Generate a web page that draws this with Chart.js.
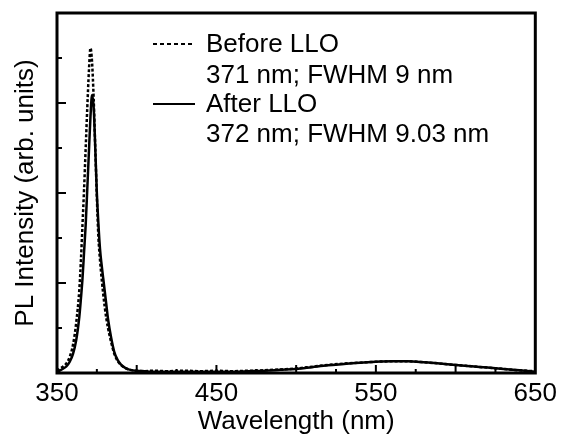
<!DOCTYPE html>
<html>
<head>
<meta charset="utf-8">
<script src="https://cdn.jsdelivr.net/npm/chart.js@4.4.1/dist/chart.umd.min.js"></script>
<style>
  html, body { margin: 0; padding: 0; background: #fff; }
  #wrap { width: 562px; height: 438px; position: relative; }
</style>
</head>
<body>
<div id="wrap"><canvas id="myChart"></canvas></div>
<script>
// wavelengths (nm), shared by both spectra
var wavelength = [350, 352, 354, 356, 358, 360, 362, 364, 365, 366, 367, 368, 369, 370, 371, 372, 373, 374, 375,
  376, 377, 378, 379, 380, 381, 382, 384, 386, 388, 390, 393, 396, 400, 405, 410, 420, 430, 440, 450, 460, 470,
  480, 490, 500, 510, 520, 530, 540, 550, 560, 570, 580, 590, 600, 610, 620, 630, 640, 650];
var beforeLLO = [0.05, 0.1, 0.15, 0.22, 0.36, 0.62, 1.1, 1.85, 2.5, 3.3, 4.1, 5.0, 5.9, 6.7, 7.22, 6.9, 6.1, 5.0, 3.9,
  3.0, 2.5, 2.1, 1.75, 1.45, 1.2, 1.0, 0.68, 0.42, 0.27, 0.18, 0.11, 0.07, 0.05, 0.04, 0.05, 0.04, 0.05, 0.04, 0.05, 0.04, 0.05,
  0.06, 0.08, 0.1, 0.14, 0.18, 0.21, 0.23, 0.25, 0.26, 0.26, 0.24, 0.21, 0.18, 0.15, 0.12, 0.09, 0.06, 0.04];
var afterLLO = [0.03, 0.06, 0.1, 0.15, 0.25, 0.42, 0.72, 1.25, 1.65, 2.1, 2.7, 3.3, 4.1, 4.9, 5.7, 6.18, 5.9, 5.0, 4.0,
  3.3, 2.75, 2.4, 2.1, 1.8, 1.5, 1.2, 0.78, 0.46, 0.29, 0.19, 0.11, 0.07, 0.05, 0.04, 0.03, 0.03, 0.03, 0.03, 0.03, 0.03, 0.04,
  0.05, 0.07, 0.09, 0.13, 0.17, 0.2, 0.23, 0.25, 0.26, 0.26, 0.24, 0.21, 0.18, 0.15, 0.12, 0.09, 0.06, 0.03];

var xLabelTicks = [350, 450, 550, 650];
var xMajorTicks = [400, 450, 500, 550, 600];
var xMinorTicks = [375, 425, 475, 525, 575, 625];
var yMajorTicks = [2, 4, 6];
var yMinorTicks = [1, 3, 5, 7];

var legendLines = [
  { dash: [4, 3], text: ['Before LLO', '371 nm; FWHM 9 nm'] },
  { dash: [], text: ['After LLO', '372 nm; FWHM 9.03 nm'] }
];

function toPoints(xs, ys) {
  return xs.map(function (x, i) { return { x: x, y: ys[i] }; });
}

var FONT = '"Liberation Sans", Arial, sans-serif';
var FSIZE = 26;

// frame, inward ticks and the text legend
var framePlugin = {
  id: 'frame',
  afterDraw: function (chart) {
    var ctx = chart.ctx, a = chart.chartArea;
    var xs = chart.scales.x, ys = chart.scales.y;
    ctx.save();
    ctx.strokeStyle = '#000';
    ctx.lineWidth = 2;
    ctx.beginPath();
    xMajorTicks.forEach(function (v) {
      var p = xs.getPixelForValue(v);
      ctx.moveTo(p, a.bottom); ctx.lineTo(p, a.bottom - 8);
    });
    xMinorTicks.forEach(function (v) {
      var p = xs.getPixelForValue(v);
      ctx.moveTo(p, a.bottom); ctx.lineTo(p, a.bottom - 4);
    });
    yMajorTicks.forEach(function (v) {
      var p = ys.getPixelForValue(v);
      ctx.moveTo(a.left, p); ctx.lineTo(a.left + 9, p);
    });
    yMinorTicks.forEach(function (v) {
      var p = ys.getPixelForValue(v);
      ctx.moveTo(a.left, p); ctx.lineTo(a.left + 5, p);
    });
    ctx.stroke();

    ctx.lineWidth = 3;
    ctx.strokeRect(a.left, a.top, a.right - a.left, a.bottom - a.top);

    // legend
    ctx.font = FSIZE + 'px ' + FONT;
    ctx.fillStyle = '#000';
    ctx.textBaseline = 'alphabetic';
    var sampleY = [44, 104];
    var textY = [[52, 83], [112, 142]];
    legendLines.forEach(function (item, i) {
      ctx.lineWidth = 2;
      ctx.setLineDash(item.dash);
      ctx.beginPath();
      ctx.moveTo(153, sampleY[i]); ctx.lineTo(195, sampleY[i]);
      ctx.stroke();
      ctx.setLineDash([]);
      ctx.fillText(item.text[0], 206, textY[i][0]);
      ctx.fillText(item.text[1], 206, textY[i][1]);
    });
    ctx.restore();
  }
};

var ctx = document.getElementById('myChart').getContext('2d');
var chart = new Chart(ctx, {
  type: 'scatter',
  data: {
    datasets: [{
      label: 'Before LLO',
      data: toPoints(wavelength, beforeLLO),
      showLine: true,
      borderColor: '#000',
      borderWidth: 2.5,
      borderDash: [3, 2],
      pointRadius: 0,
      cubicInterpolationMode: 'monotone'
    }, {
      label: 'After LLO',
      data: toPoints(wavelength, afterLLO),
      showLine: true,
      borderColor: '#000',
      borderWidth: 2.5,
      pointRadius: 0,
      cubicInterpolationMode: 'monotone'
    }]
  },
  options: {
    responsive: true,
    maintainAspectRatio: false,
    animation: false,
    layout: { padding: { top: 13, right: 21, left: 0, bottom: 0 } },
    plugins: { legend: { display: false }, tooltip: { enabled: false } },
    scales: {
      x: {
        type: 'linear',
        min: 350,
        max: 650,
        afterBuildTicks: function (scale) {
          scale.ticks = xLabelTicks.map(function (v) { return { value: v }; });
        },
        afterFit: function (scale) { scale.height = 65; },
        grid: { display: false, drawTicks: false },
        border: { display: false },
        ticks: { color: '#000', padding: 5, maxRotation: 0, autoSkip: false, font: { family: FONT, size: FSIZE } },
        title: { display: true, text: 'Wavelength (nm)', color: '#000', padding: { top: 0, bottom: 1 }, font: { family: FONT, size: FSIZE } }
      },
      y: {
        type: 'linear',
        min: 0,
        max: 8,
        afterFit: function (scale) { scale.width = 57; },
        grid: { display: false, drawTicks: false },
        border: { display: false },
        ticks: { display: false },
        title: { display: true, text: 'PL Intensity (arb. units)', color: '#000', padding: { top: 10, bottom: 0 }, font: { family: FONT, size: FSIZE } }
      }
    }
  },
  plugins: [framePlugin]
});
</script>
</body>
</html>
